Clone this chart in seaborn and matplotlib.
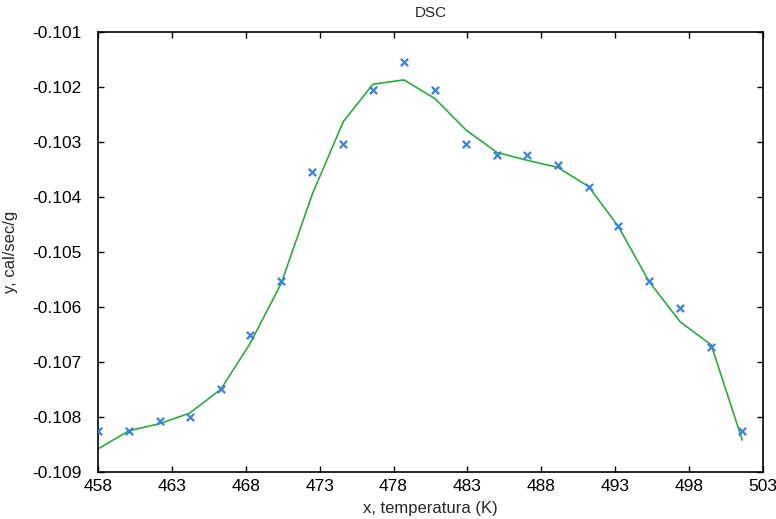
import numpy as np
import pandas as pd
import matplotlib
matplotlib.use("Agg")
import matplotlib.pyplot as plt
import seaborn as sns

# temperature (K) of each measurement
temp = [458.0, 460.1, 462.2, 464.2, 466.3, 468.3, 470.4, 472.5, 474.6, 476.6, 478.7,
        480.8, 482.9, 485.0, 487.0, 489.1, 491.2, 493.2, 495.3, 497.4, 499.5, 501.6]

# measured heat flow (markers)
heat_meas = [-0.10825, -0.10825, -0.10808, -0.10800, -0.10750, -0.10651, -0.10553,
             -0.10355, -0.10304, -0.10205, -0.10154, -0.10205, -0.10304, -0.10324,
             -0.10324, -0.10342, -0.10382, -0.10453, -0.10553, -0.10602, -0.10672,
             -0.10825]

# smoothed curve (green line)
heat_fit = [-0.10858, -0.10825, -0.10812, -0.10793, -0.10750, -0.10666, -0.10557,
            -0.10395, -0.10263, -0.10195, -0.10187, -0.10221, -0.10278, -0.10319,
            -0.10333, -0.10346, -0.10381, -0.10453, -0.10554, -0.10627, -0.10669,
            -0.10842]

x_ticks = [458, 463, 468, 473, 478, 483, 488, 493, 498, 503]
y_ticks = [-0.109, -0.108, -0.107, -0.106, -0.105, -0.104, -0.103, -0.102, -0.101]

df = pd.DataFrame({"temp": temp, "meas": heat_meas, "fit": heat_fit})

sns.set_style("ticks")
plt.rcParams["font.family"] = ["Liberation Sans", "DejaVu Sans"]

fig = plt.figure(figsize=(7.76, 5.19), dpi=100)
ax = fig.add_axes([0.1263, 0.0906, 0.8569, 0.8477])

sns.lineplot(data=df, x="temp", y="fit", color="#2eaa3c", linewidth=1.2, ax=ax)
sns.scatterplot(data=df, x="temp", y="meas", marker="x", color="#3b82d8",
                s=28, linewidth=1.6, ax=ax, zorder=3)

ax.set_xlim(458, 503)
ax.set_ylim(-0.109, -0.101)
ax.set_xticks(x_ticks)
ax.set_yticks(y_ticks)
ax.set_yticklabels([f"{v:.3f}" for v in y_ticks])
ax.tick_params(direction="in", length=4, width=1, labelsize=12.5,
               top=True, right=True, colors="black")
ax.tick_params(axis="y", pad=12)
ax.tick_params(axis="x", pad=5)
for side in ax.spines.values():
    side.set_visible(True)
    side.set_linewidth(1.2)
    side.set_color("black")

ax.set_title("DSC", fontsize=11, pad=11)
ax.set_xlabel("x, temperatura (K)", fontsize=12, labelpad=5)
ax.set_ylabel("y, cal/sec/g", fontsize=12, labelpad=10)

fig.savefig("out.png", dpi=100)
